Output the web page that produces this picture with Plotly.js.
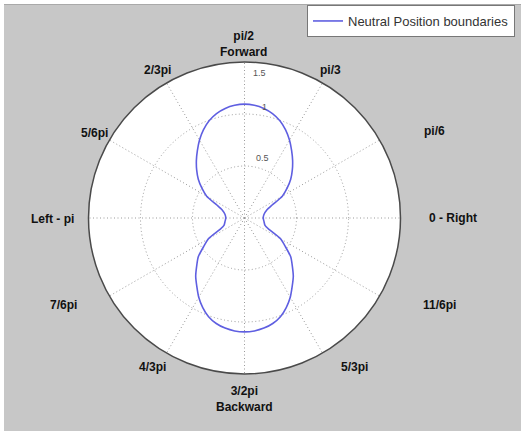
<!DOCTYPE html>
<html>
<head>
<meta charset="utf-8">
<script src="https://cdn.plot.ly/plotly-3.0.1.min.js"></script>
<style>
  html, body { margin: 0; padding: 0; background: #ffffff; width: 521px; height: 431px; overflow: hidden; }
  #topline { position: absolute; left: 4px; top: 4px; width: 517px; height: 1px; background: #a9a9a9; }
  #chart { position: absolute; left: 4px; top: 5px; width: 517px; height: 426px; }
</style>
</head>
<body>
<div id="topline"></div>
<div id="chart"></div>
<script>
// Angles (degrees) and radii of the "Neutral Position boundaries" curve
const thetaDeg = [
  0, 10, 20, 25, 30, 35, 40, 45, 50, 55, 60, 65, 70, 75, 80, 85, 90,
  95, 100, 105, 110, 115, 120, 125, 130, 135, 140, 145, 150, 155, 160, 170, 180,
  190, 200, 205, 210, 215, 220, 225, 230, 235, 240, 245, 250, 255, 260, 265, 270,
  275, 280, 285, 290, 295, 300, 305, 310, 315, 320, 325, 330, 335, 340, 350, 360
];
const radius = [
  0.18, 0.19, 0.23, 0.29, 0.42, 0.50, 0.58, 0.65, 0.72, 0.79, 0.865, 0.935, 0.995, 1.04, 1.07, 1.088, 1.095,
  1.088, 1.07, 1.04, 0.995, 0.935, 0.865, 0.79, 0.72, 0.65, 0.58, 0.50, 0.42, 0.29, 0.23, 0.19, 0.18,
  0.19, 0.21, 0.26, 0.40, 0.48, 0.58, 0.65, 0.73, 0.80, 0.88, 0.95, 1.01, 1.05, 1.075, 1.09, 1.095,
  1.09, 1.075, 1.05, 1.01, 0.95, 0.88, 0.80, 0.73, 0.65, 0.58, 0.48, 0.40, 0.26, 0.21, 0.19, 0.18
];
const seriesName = "Neutral Position boundaries";

// Angular tick positions and labels
const angleTicks = [0, 30, 60, 90, 120, 150, 180, 210, 240, 270, 300, 330];
const angleLabels = [
  "0 - Right", "pi/6", "pi/3", "pi/2<br>Forward", "2/3pi", "5/6pi",
  "Left - pi", "7/6pi", "4/3pi", "3/2pi<br>Backward", "5/3pi", "11/6pi"
];

// Radial ticks
const radialTicks = [0.5, 1, 1.5];
const radialLabels = ["0.5", "1", "1.5"];
const radialMax = 1.5;

// ---- layout (pixel geometry, not data) ----
const W = 517, H = 426;
const cx = 240.5, cy = 213, R = 156;
// centre of each angular label, in pixels relative to the chart div (same order as angleTicks)
const angleLabelPx = [
  [449, 213], [430, 126], [326.5, 65], [239, 39], [153.5, 65], [90.5, 128],
  [48, 214], [59, 300], [148.5, 362], [240, 393.5], [350.5, 362], [435, 300]
];
// centre of each radial label, in pixels relative to the chart div (same order as radialTicks)
const radialLabelPx = [[258, 153], [260, 102], [255, 68]];

const trace = {
  type: "scatterpolar",
  mode: "lines",
  name: seriesName,
  theta: thetaDeg,
  r: radius,
  line: { color: "rgb(95,95,225)", width: 1.6, shape: "spline", smoothing: 0.6 },
  hoverinfo: "skip"
};

const labelFont = { family: "Liberation Sans, Arial, sans-serif", size: 12, color: "#111", weight: "bold" };
const radialFont = { family: "Liberation Sans, Arial, sans-serif", size: 9, color: "#555" };

const annotations = angleLabels.map((txt, i) => ({
  xref: "paper", yref: "paper",
  x: angleLabelPx[i][0] / W,
  y: 1 - angleLabelPx[i][1] / H,
  xanchor: "center", yanchor: "middle",
  text: txt,
  showarrow: false,
  font: labelFont
})).concat(radialLabels.map((txt, i) => ({
  xref: "paper", yref: "paper",
  x: radialLabelPx[i][0] / W,
  y: 1 - radialLabelPx[i][1] / H,
  xanchor: "center", yanchor: "middle",
  text: txt,
  showarrow: false,
  font: radialFont
})));

const layout = {
  width: W, height: H,
  margin: { l: 0, r: 0, t: 0, b: 0, pad: 0 },
  paper_bgcolor: "#c7c7c7",
  showlegend: true,
  annotations: annotations,
  legend: {
    x: 511 / W, xanchor: "right",
    y: 1, yanchor: "top",
    bgcolor: "#ffffff",
    bordercolor: "#777777",
    borderwidth: 1,
    itemwidth: 30,
    font: { family: "Liberation Sans, Arial, sans-serif", size: 13, color: "#333" }
  },
  polar: {
    domain: {
      x: [(cx - R) / W, (cx + R) / W],
      y: [(H - cy - R) / H, (H - cy + R) / H]
    },
    bgcolor: "#ffffff",
    angularaxis: {
      rotation: 0,
      direction: "counterclockwise",
      tickmode: "array",
      tickvals: angleTicks,
      ticktext: angleLabels,
      showticklabels: false,
      ticks: "",
      showline: true,
      linecolor: "#4a4a4a",
      linewidth: 1.5,
      showgrid: true,
      gridcolor: "#9a9a9a",
      griddash: "1px,2.5px",
      gridwidth: 1
    },
    radialaxis: {
      range: [0, radialMax],
      angle: 82,
      tickmode: "array",
      tickvals: radialTicks,
      ticktext: radialLabels,
      showticklabels: false,
      ticks: "",
      showline: false,
      showgrid: true,
      gridcolor: "#9a9a9a",
      griddash: "1px,2.5px",
      gridwidth: 1,
      tickfont: radialFont
    }
  }
};

Plotly.newPlot("chart", [trace], layout, { displayModeBar: false, staticPlot: true });
</script>
</body>
</html>
